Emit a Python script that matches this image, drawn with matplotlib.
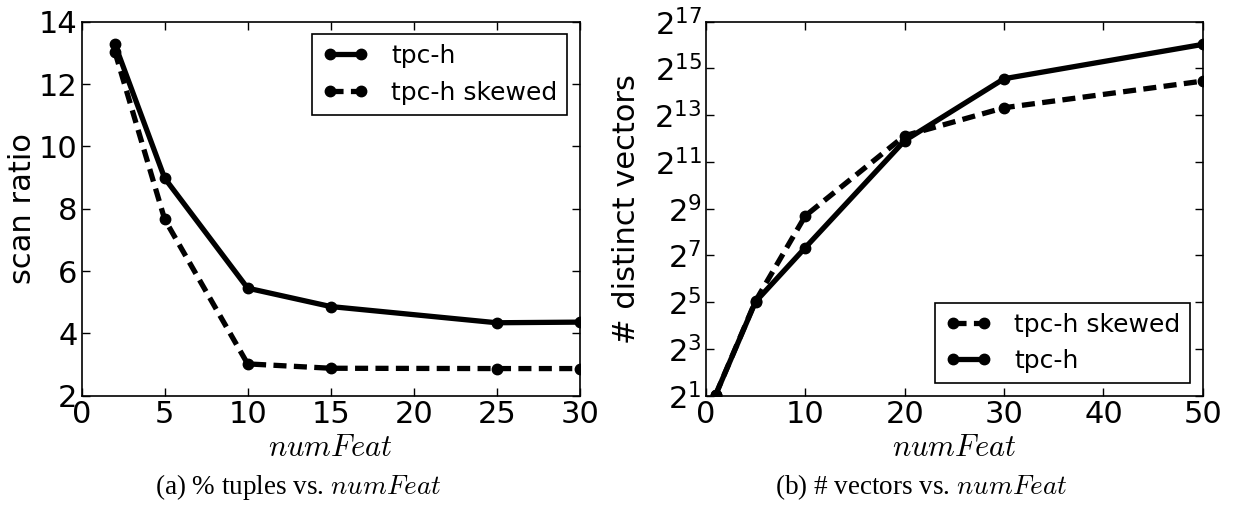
import matplotlib
matplotlib.use('Agg')
import matplotlib.pyplot as plt
from matplotlib.ticker import FixedLocator, LogFormatterMathtext, NullLocator

# data
num_feat_a = [2, 5, 10, 15, 25, 30]
scan_tpch = [13.28, 8.98, 5.45, 4.86, 4.34, 4.36]
scan_skewed = [13.04, 7.66, 3.02, 2.88, 2.87, 2.87]

num_feat_b = [1, 5, 10, 20, 30, 50]
vec_tpch = [2.07, 32.4, 161, 3850, 24150, 66900]
vec_skewed = [2.07, 33.1, 413, 4450, 10220, 22530]

xticks_a = [0, 5, 10, 15, 20, 25, 30]
yticks_a = [2, 4, 6, 8, 10, 12, 14]
xticks_b = [0, 10, 20, 30, 40, 50]
yexp_b = [1, 3, 5, 7, 9, 11, 13, 15, 17]

plt.rcParams['font.family'] = 'DejaVu Sans'
plt.rcParams['mathtext.fontset'] = 'dejavusans'
plt.rcParams['lines.scale_dashes'] = False

fig = plt.figure(figsize=(12.37, 5.14), dpi=100)
ax1 = fig.add_axes([0.066, 0.2302, 0.4026, 0.7276])
ax2 = fig.add_axes([0.5706, 0.2302, 0.4018, 0.7276])

line_kw = dict(color='black', lw=3.8, marker='o', markersize=7.5)
dash = (9.4, 5.3)

ax1.plot(num_feat_a, scan_tpch, label='tpc-h', **line_kw)
ax1.plot(num_feat_a, scan_skewed, label='tpc-h skewed', dashes=dash, **line_kw)
ax1.set_xlim(0, 30)
ax1.set_ylim(2, 14)
ax1.set_xticks(xticks_a)
ax1.set_yticks(yticks_a)
ax1.set_ylabel('scan ratio', fontsize=22)
ax1.yaxis.set_label_coords(-0.09, 0.5)

ax2.plot(num_feat_b, vec_skewed, label='tpc-h skewed', dashes=dash, **line_kw)
ax2.plot(num_feat_b, vec_tpch, label='tpc-h', **line_kw)
ax2.set_yscale('log', base=2)
ax2.set_xlim(0, 50)
ax2.set_ylim(2 ** 1, 2 ** 17)
ax2.set_xticks(xticks_b)
ax2.yaxis.set_major_locator(FixedLocator([2.0 ** e for e in yexp_b]))
ax2.yaxis.set_major_formatter(LogFormatterMathtext(base=2))
ax2.yaxis.set_minor_locator(NullLocator())
ax2.set_ylabel('# distinct vectors', fontsize=22)
ax2.yaxis.set_label_coords(-0.13, 0.5)

for ax, loc in [(ax1, 'upper right'), (ax2, 'lower right')]:
    ax.tick_params(direction='in', length=6, width=1, labelsize=22, pad=3,
                   top=True, right=True)
    for s in ax.spines.values():
        s.set_linewidth(1.2)
    ax.set_xlabel('$numFeat$', fontsize=22, math_fontfamily='cm', labelpad=3)
    leg = ax.legend(loc=loc, fontsize=18, numpoints=2, fancybox=False,
                    framealpha=1, edgecolor='black', handlelength=1.85,
                    handletextpad=0.9, borderaxespad=0.5)
    leg.get_frame().set_linewidth(1.2)

fig.text(0.2409, 0.052, '(a) % tuples vs. $numFeat$', ha='center', va='center',
         fontsize=19.5, family='Liberation Serif', math_fontfamily='cm')
fig.text(0.7446, 0.052, '(b) # vectors vs. $numFeat$', ha='center', va='center',
         fontsize=19.5, family='Liberation Serif', math_fontfamily='cm')

fig.savefig('out.png', dpi=100)
